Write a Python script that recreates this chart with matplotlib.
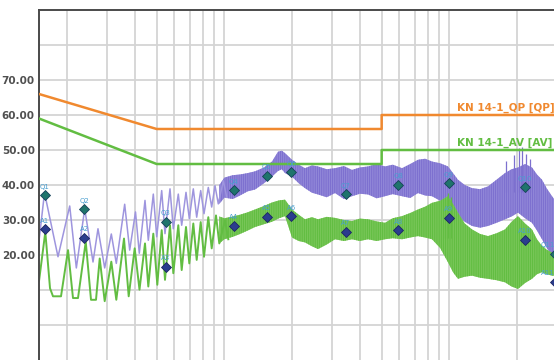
import matplotlib
matplotlib.use("Agg")
import matplotlib.pyplot as plt
from matplotlib.ticker import FixedLocator, NullFormatter, FormatStrFormatter

# ---------------- data ----------------
# QP limit (KN 14-1)
qp_lim_f = [0.15, 0.5, 5.0, 5.0, 30.0]
qp_lim_db = [66.0, 56.0, 56.0, 60.0, 60.0]
# AV limit
av_lim_f = [0.15, 0.5, 5.0, 5.0, 30.0]
av_lim_db = [59.0, 46.0, 46.0, 50.0, 50.0]

# peak (purple) trace, low-frequency resolved oscillation
pk_f = [0.1500, 0.1587, 0.1822, 0.2054, 0.2198, 0.2395, 0.2607, 0.2743, 0.2938, 0.3144,
        0.3309, 0.3605, 0.3795, 0.4027, 0.4187, 0.4438, 0.4591, 0.4832, 0.5003, 0.5265,
        0.5446, 0.5732, 0.5929, 0.6240, 0.6461, 0.6752, 0.6984, 0.7276, 0.7533, 0.7848,
        0.8118, 0.8483, 0.8783, 0.9085, 0.9397, 0.9890, 1.0241]
pk_db = [24.0, 37.8, 19.5, 34.0, 16.3, 33.2, 18.0, 27.5, 16.3, 26.0,
         17.6, 34.5, 21.4, 32.3, 20.5, 35.6, 24.2, 37.4, 25.2, 38.4,
         26.1, 38.9, 27.5, 37.4, 28.5, 37.9, 30.4, 38.9, 30.8, 38.4,
         31.8, 39.3, 33.7, 39.8, 34.6, 41.2, 36.5]

# average (green) trace, low-frequency resolved oscillation
avg_f = [0.1500, 0.1600, 0.1679, 0.1731, 0.1879, 0.2019, 0.2124, 0.2236, 0.2420, 0.2554,
         0.2688, 0.2792, 0.2938, 0.3144, 0.3309, 0.3580, 0.3756, 0.3994, 0.4195, 0.4438,
         0.4591, 0.4832, 0.5034, 0.5265, 0.5446, 0.5732, 0.5929, 0.6240, 0.6461, 0.6752,
         0.6984, 0.7276, 0.7533, 0.7848, 0.8118, 0.8483, 0.8783, 0.9178, 0.9493, 1.0064,
         1.0410]
avg_db = [12.5, 26.6, 10.5, 8.2, 8.2, 21.4, 7.7, 7.7, 23.8, 7.2,
          7.2, 19.0, 6.8, 18.1, 7.2, 24.7, 8.2, 21.9, 10.1, 23.3,
          11.0, 26.1, 11.5, 27.1, 12.9, 28.5, 14.8, 28.5, 15.7, 28.0,
          17.6, 29.0, 18.6, 29.4, 19.5, 30.8, 21.9, 31.3, 23.3, 29.9,
          24.5]

# dense region envelopes (min / max of the unresolved trace)
pk_band_f = [0.95, 1.00, 1.09, 1.173, 1.27, 1.368, 1.50, 1.628, 1.731, 1.80, 1.860,
             1.998, 2.14, 2.282, 2.45, 2.607, 2.85, 3.103, 3.40, 3.692, 4.00,
             4.349, 4.75, 5.175, 5.60, 6.159, 6.70, 7.253, 7.80, 8.372, 9.10,
             9.860, 10.92, 11.70, 12.61, 13.70, 14.85, 16.20, 17.67, 18.90, 20.19,
             21.70, 23.29, 24.50, 25.80, 27.10, 28.58, 30.0]
pk_band_lo = [34.6, 36.4, 36.0, 37.0, 38.2, 38.7, 40.5, 42.4, 44.0, 44.5, 43.4,
              42.4, 40.5, 39.1, 37.8, 37.3, 36.5, 37.7, 36.0, 36.8, 37.5,
              37.3, 36.2, 36.8, 37.4, 36.8, 36.3, 37.7, 37.0, 36.8, 35.5,
              33.9, 31.1, 29.5, 28.3, 27.8, 28.3, 29.2, 30.2, 31.0, 32.1,
              30.5, 29.2, 27.0, 24.5, 22.0, 19.8, 19.0]
pk_band_hi = [40.0, 42.1, 42.8, 43.0, 43.4, 43.9, 45.0, 46.7, 49.5, 49.8, 49.1,
              47.2, 45.8, 44.8, 45.6, 45.3, 44.5, 44.8, 45.4, 44.3, 45.0,
              45.3, 46.0, 45.3, 45.8, 44.8, 46.0, 47.2, 47.5, 46.7, 46.2,
              45.3, 41.5, 40.0, 39.1, 38.8, 39.6, 41.5, 43.4, 44.5, 45.0,
              46.0, 45.0, 43.0, 41.5, 39.0, 36.8, 35.0]

avg_band_f = [0.95, 1.00, 1.09, 1.173, 1.27, 1.368, 1.50, 1.628, 1.75, 1.860,
              1.998, 2.14, 2.282, 2.45, 2.607, 2.85, 3.103, 3.40, 3.692, 4.00,
              4.349, 4.75, 5.175, 5.60, 6.159, 6.70, 7.253, 7.80, 8.372, 9.10,
              9.860, 10.40, 10.92, 11.70, 12.61, 13.70, 14.85, 16.20, 17.67, 18.90,
              20.19, 21.70, 23.29, 24.50, 25.80, 27.10, 28.58, 30.0]
avg_band_lo = [23.3, 24.5, 25.2, 26.0, 27.0, 28.0, 28.8, 29.5, 30.5, 31.1,
               25.0, 24.0, 23.6, 22.5, 21.7, 23.0, 24.5, 24.0, 24.5, 24.0,
               24.5, 24.0, 24.5, 24.8, 24.5, 25.0, 25.4, 25.0, 24.5, 22.0,
               17.9, 15.0, 13.2, 13.8, 14.1, 13.5, 13.2, 12.8, 12.2, 11.0,
               10.3, 12.0, 13.2, 14.5, 15.1, 14.5, 14.1, 14.0]
avg_band_hi = [31.0, 30.5, 31.0, 31.5, 32.2, 33.0, 34.0, 35.0, 35.6, 35.8,
               33.0, 31.5, 30.2, 30.8, 30.2, 30.9, 30.6, 30.0, 29.7, 30.4,
               30.2, 29.6, 29.2, 30.5, 31.1, 32.0, 33.0, 33.8, 34.9, 35.5,
               36.8, 34.5, 32.1, 29.0, 27.3, 26.0, 25.4, 26.2, 27.3, 29.5,
               31.1, 29.0, 27.3, 24.5, 22.6, 21.5, 20.7, 20.0]

# isolated spikes
pk_spk_f = [17.9, 19.4, 20.3, 21.0, 21.9, 22.8]
pk_spk_db = [47.0, 48.5, 50.5, 51.0, 49.0, 47.5]
avg_spk_f = [9.6, 9.9, 10.2]
avg_spk_db = [36.0, 37.7, 36.5]

# final measurement markers
mk_f = [0.1587, 0.238, 0.548, 1.10, 1.54, 1.98, 3.46, 5.93, 9.93, 21.7, 29.5]
q_db = [37.1, 33.1, 29.5, 38.5, 42.6, 43.6, 37.3, 40.1, 40.5, 39.4, 20.3]
a_db = [27.4, 25.0, 16.7, 28.4, 31.0, 31.1, 26.6, 27.1, 30.7, 24.4, 12.3]
q_names = ["Q1", "Q2", "Q3", "Q4", "Q5", "Q6", "Q7", "Q8", "Q9", "Q10", "Q11"]
a_names = ["A1", "A2", "A3", "A4", "A5", "A6", "A7", "A8", "A9", "A10", "A11"]

y_ticks = [20, 30, 40, 50, 60, 70]
qp_label = "KN 14-1_QP [QP]"
av_label = "KN 14-1_AV [AV]"

# ---------------- style ----------------
ORANGE = "#f0892f"
GREEN = "#62bd42"
GREEN_L = "#86cc66"
PURPLE = "#7d70cf"
PURPLE_L = "#9e95de"
Q_MK = "#1f746c"
A_MK = "#2b3d8e"
LBL = "#4a9fd0"

plt.rcParams["hatch.linewidth"] = 0.9

W, H = 554, 360
fig = plt.figure(figsize=(W / 100, H / 100), dpi=100)
left = 39 / W
right = (39 + 225 * 2.30103) / W
top = 1 - 10 / H
bottom = 0.0
ax = fig.add_axes([left, bottom, right - left, top - bottom])
ax.set_xscale("log")
ax.set_xlim(0.15, 30)
ax.set_ylim(-10, 90)

# grid
vgrid = [0.2, 0.3, 0.4, 0.5, 0.6, 0.7, 0.8, 0.9, 1, 2, 3, 4, 5, 6, 7, 8, 9, 10, 20, 30]
for v in vgrid:
    ax.axvline(v, color="#d4d4d4", lw=1.3, zorder=0)
for h in range(0, 90, 10):
    ax.axhline(h, color="#d4d4d4", lw=1.3, zorder=0)

ax.xaxis.set_major_locator(FixedLocator([]))
ax.xaxis.set_minor_locator(FixedLocator([]))
ax.xaxis.set_minor_formatter(NullFormatter())
ax.set_yticks(y_ticks)
ax.yaxis.set_major_formatter(FormatStrFormatter("%.2f"))
ax.tick_params(axis="y", length=0, pad=3, labelsize=7.5, labelcolor="#505050")
for t in ax.get_yticklabels():
    t.set_fontweight("bold")

for s in ["right", "bottom"]:
    ax.spines[s].set_visible(False)
for s in ["left", "top"]:
    ax.spines[s].set_color("#4a4a4a")
    ax.spines[s].set_linewidth(1.4)

# limits
ax.plot(qp_lim_f, qp_lim_db, color=ORANGE, lw=1.8, zorder=3)
ax.plot(av_lim_f, av_lim_db, color=GREEN, lw=1.8, zorder=3)
ax.text(10.8, 61.9, qp_label, color=ORANGE, fontsize=7.5, fontweight="bold",
        va="center", ha="left", zorder=6)
ax.text(10.8, 52.0, av_label, color=GREEN, fontsize=7.5, fontweight="bold",
        va="center", ha="left", zorder=6)

# traces
ax.fill_between(pk_band_f, pk_band_lo, pk_band_hi, facecolor=PURPLE_L,
                edgecolor=PURPLE, hatch="|||||||||", lw=0.0, zorder=2)
ax.plot(pk_f, pk_db, color=PURPLE_L, lw=1.1, zorder=2)
ax.vlines(pk_spk_f, 38, pk_spk_db, color=PURPLE, lw=0.9, zorder=2)

ax.fill_between(avg_band_f, avg_band_lo, avg_band_hi, facecolor=GREEN_L,
                edgecolor=GREEN, hatch="|||||||||", lw=0.0, zorder=2.5)
ax.plot(avg_f, avg_db, color=GREEN, lw=1.4, zorder=2.5)
ax.vlines(avg_spk_f, 25, avg_spk_db, color=GREEN, lw=0.9, zorder=2.5)

# markers
ax.plot(mk_f, q_db, ls="none", marker="D", ms=5, mfc=Q_MK, mec="#16405a",
        mew=0.6, zorder=5, clip_on=False)
ax.plot(mk_f, a_db, ls="none", marker="D", ms=5, mfc=A_MK, mec="#1b2660",
        mew=0.6, zorder=5, clip_on=False)
last = len(mk_f) - 1
for i, (f, v, n) in enumerate(zip(mk_f, q_db, q_names)):
    ax.annotate(n, (f, v), xytext=(0, 4), textcoords="offset points",
                ha="right" if i == last else "center", va="bottom",
                fontsize=5, color=LBL, zorder=6)
for i, (f, v, n) in enumerate(zip(mk_f, a_db, a_names)):
    ax.annotate(n, (f, v), xytext=(0, 4), textcoords="offset points",
                ha="right" if i == last else "center", va="bottom",
                fontsize=5, color=LBL, zorder=6)

fig.savefig("out.png", dpi=100)
